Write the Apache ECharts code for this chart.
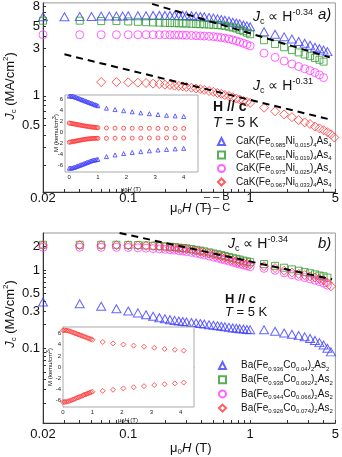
<!DOCTYPE html>
<html>
<head>
<meta charset="utf-8">
<script src="https://cdn.jsdelivr.net/npm/echarts@6/dist/echarts.min.js"></script>
<style>
  html, body { margin: 0; padding: 0; background: #fff; }
  #chart { width: 342px; height: 457px; }
</style>
</head>
<body>
<div id="chart"></div>
<script>
// applied field (T), shared by all Jc curves
const fieldT = [
  0.02, 0.03, 0.04, 0.05, 0.06, 0.07, 0.08, 0.09, 0.1,
  0.12, 0.14, 0.16, 0.18, 0.2, 0.22, 0.24, 0.26, 0.28, 0.3,
  0.33, 0.36, 0.39, 0.42, 0.46, 0.5, 0.54, 0.58, 0.62, 0.67, 0.72, 0.77, 0.82, 0.88, 0.94, 1.0,
  1.3, 1.6, 1.9, 2.2, 2.5, 2.8, 3.1, 3.4, 3.7, 4.0, 4.3, 4.6, 4.9
]

// panel a) CaK(Fe,Ni)4As4, Jc in MA/cm2
const jcCaK015 = [
  6.3, 6.3, 6.35, 6.35, 6.4, 6.4, 6.4, 6.4, 6.45,
  6.45, 6.45, 6.5, 6.5, 6.5, 6.5, 6.5, 6.5, 6.5, 6.5,
  6.45, 6.4, 6.35, 6.3, 6.2, 6.1, 6.0, 5.9, 5.8, 5.7, 5.55, 5.45, 5.35, 5.2, 5.1, 5.0,
  4.45, 4.2, 3.95, 3.75, 3.55, 3.4, 3.25, 3.1, 3.0, 2.9, 2.8, null, null
]
const jcCaK019 = [
  5.75, null, 5.75, null, 5.7, null, 5.7, null, 5.65,
  5.6, 5.55, 5.52, 5.5, 5.47, 5.45, 5.43, 5.41, 5.4, 5.38,
  5.35, 5.32, 5.3, 5.28, 5.25, 5.22, 5.2, 5.15, 5.1, 5.0, 4.9, 4.8, 4.65, 4.5, 4.35, 4.2,
  3.65, 3.35, 3.1, 2.9, 2.75, 2.62, 2.52, 2.42, 2.32, 2.22, null, null, null
]
const jcCaK025 = [
  4.15, null, 4.15, null, 4.15, null, 4.15, null, 4.15,
  4.15, 4.15, 4.15, 4.15, 4.15, 4.14, 4.13, 4.12, 4.11, 4.1,
  4.08, 4.06, 4.04, 4.02, 4.0, 3.97, 3.93, 3.88, 3.83, 3.76, 3.68, 3.6, 3.5, 3.4, 3.3, 3.2,
  2.7, 2.45, 2.25, 2.1, 1.98, 1.88, 1.8, 1.72, 1.63, 1.53, null, null, null
]
const jcCaK033 = [
  null, null, null, null, 1.38, null, 1.38, null, 1.37,
  1.36, 1.35, 1.33, 1.32, 1.3, 1.29, 1.27, 1.26, 1.25, 1.23,
  1.21, 1.19, 1.17, 1.15, 1.12, 1.1, 1.07, 1.05, 1.02, 1.0, 0.97, 0.94, 0.92, 0.89, 0.87, 0.85,
  0.76, 0.7, 0.65, 0.61, 0.57, 0.54, 0.52, 0.49, 0.47, 0.45, 0.43, 0.41, 0.38
]

// panel b) Ba(Fe,Co)2As2
const jcBa040 = [
  0.39, null, 0.37, null, 0.345, null, 0.32, null, 0.3,
  0.283, 0.268, 0.256, 0.246, 0.238, 0.232, 0.227, 0.223, 0.22, 0.217,
  0.213, 0.21, 0.207, 0.204, 0.2, 0.197, 0.194, 0.191, 0.188, 0.185, 0.182, 0.18, 0.178, 0.176, 0.174, 0.172,
  0.172, 0.165, 0.157, 0.151, 0.145, 0.14, 0.133, 0.126, 0.118, 0.11, 0.1, 0.09, null
]
const jcBa062 = [
  2.1, null, 2.1, null, 2.1, null, 2.1, null, 2.09,
  2.08, 2.06, 2.04, 2.02, 2.0, 1.98, 1.96, 1.93, 1.91, 1.89,
  1.85, 1.81, 1.77, 1.73, 1.68, 1.63, 1.59, 1.55, 1.51, 1.47, 1.43, 1.39, 1.36, 1.32, 1.29, 1.26,
  1.19, 1.13, 1.07, 1.02, 0.98, 0.94, 0.91, 0.88, 0.85, 0.83, 0.8, null, null
]
const jcBa066 = [
  1.95, null, 1.95, null, 1.95, null, 1.95, null, 1.94,
  1.92, 1.9, 1.88, 1.86, 1.84, 1.82, 1.8, 1.77, 1.75, 1.72,
  1.68, 1.64, 1.6, 1.56, 1.51, 1.46, 1.42, 1.38, 1.34, 1.3, 1.26, 1.22, 1.19, 1.16, 1.13, 1.1,
  1.05, 0.99, 0.92, 0.87, 0.83, 0.8, 0.77, 0.74, 0.71, 0.68, 0.64, null, null
]
const jcBa074 = [
  2.08, null, 2.08, null, 2.08, null, 2.08, null, 2.07,
  2.06, 2.04, 2.02, 2.0, 1.97, 1.95, 1.92, 1.9, 1.87, 1.85,
  1.8, 1.76, 1.72, 1.67, 1.62, 1.57, 1.52, 1.47, 1.43, 1.38, 1.33, 1.29, 1.26, 1.23, 1.2, 1.18,
  1.12, 1.06, 0.98, 0.93, 0.89, 0.86, 0.83, 0.8, 0.77, 0.74, 0.69, 0.62, null
]

// power-law guide lines [H, Jc] end points
const fitA1 = [[0.157, 8.5], [4.5, 2.45]]
const fitA2 = [[0.03, 2.63], [4.6, 0.575]]
const fitB = [[0.085, 2.97], [4.7, 0.76]]

// insets: M (kemu/cm3) vs mu0H (T)
const insetFieldA = [0, 0.05, 0.1, 0.15, 0.2, 0.25, 0.3, 0.35, 0.4, 0.45, 0.5, 0.55, 0.6, 0.65, 0.7, 0.75, 0.8, 0.85, 0.9, 0.95, 1.0,
  1.3, 1.6, 1.9, 2.2, 2.5, 2.8, 3.1, 3.4, 3.7, 4.0]
const mBlueUp = [6.6, 6.6, 6.6, 6.55, 6.45, 6.35, 6.25, 6.15, 6.05, 5.95, 5.85, 5.75, 5.65, 5.55, 5.45, 5.35, 5.25, 5.15, 5.05, 4.95, 4.85,
  4.4, 4.15, 3.95, 3.75, 3.55, 3.4, 3.25, 3.1, 3.0, 2.9]
const mBlueDown = [-6.5, -6.5, -6.45, -6.4, -6.3, -6.2, -6.1, -6.0, -5.9, -5.8, -5.7, -5.6, -5.5, -5.4, -5.3, -5.2, -5.1, -5.05, -5.0, -4.95, -4.9,
  -4.4, -4.1, -3.85, -3.65, -3.5, -3.35, -3.2, -3.1, -3.0, -2.9]
const mRedUp = [1.7, 1.65, 1.6, 1.55, 1.5, 1.45, 1.4, 1.35, 1.3, 1.25, 1.2, 1.16, 1.12, 1.08, 1.04, 1.0, 0.97, 0.94, 0.91, 0.88, 0.85,
  0.8, 0.78, 0.77, 0.76, 0.75, 0.75, 0.74, 0.73, 0.72, 0.72]
const mRedDown = [-1.8, -1.75, -1.7, -1.65, -1.6, -1.55, -1.5, -1.45, -1.4, -1.35, -1.3, -1.26, -1.22, -1.19, -1.16, -1.13, -1.11, -1.09, -1.08, -1.07, -1.07,
  -1.07, -1.06, -1.05, -1.04, -1.03, -1.02, -1.01, -1.0, -1.0, -0.99]

const insetFieldB = [0, 0.05, 0.1, 0.15, 0.2, 0.25, 0.3, 0.35, 0.4, 0.45, 0.5, 0.55, 0.6, 0.65, 0.7, 0.75, 0.8, 0.85, 0.9, 0.95, 1.0,
  1.35, 1.7, 2.05, 2.4, 2.75, 3.1, 3.45, 3.8, 4.1]
const mBaUp = [6.6, 6.6, 6.58, 6.55, 6.5, 6.4, 6.3, 6.2, 6.1, 6.0, 5.9, 5.8, 5.7, 5.6, 5.5, 5.4, 5.3, 5.2, 5.1, 5.0, 4.9,
  4.5, 4.25, 4.05, 3.85, 3.65, 3.45, 3.25, 3.1, 2.95]
const mBaDown = [-6.3, -6.3, -6.28, -6.22, -6.15, -6.05, -5.95, -5.85, -5.75, -5.6, -5.5, -5.4, -5.3, -5.2, -5.05, -4.95, -4.85, -4.75, -4.65, -4.55, -4.45,
  -4.3, -4.1, -3.85, -3.65, -3.45, -3.25, -3.1, -2.95, -2.8]

// tick labels
const xLabels = [0.02, 0.1, 1, 5]
const xTicks = [0.02, 0.03, 0.04, 0.05, 0.06, 0.07, 0.08, 0.09, 0.1, 0.2, 0.3, 0.4, 0.5, 0.6, 0.7, 0.8, 0.9, 1, 2, 3, 4, 5]
const yLabelsA = [0.5, 1, 3, 5, 8]
const yTicksA = [0.2, 0.3, 0.4, 0.5, 0.6, 0.7, 0.8, 0.9, 1, 2, 3, 4, 5, 6, 7, 8]
const yLabelsB = [0.1, 0.3, 0.5, 1, 2]
const yTicksB = [0.02, 0.03, 0.04, 0.05, 0.06, 0.07, 0.08, 0.09, 0.1, 0.2, 0.3, 0.4, 0.5, 0.6, 0.7, 0.8, 0.9, 1, 2]
const insetXLabels = [0, 1, 2, 3, 4]
const insetYLabels = [-6, -4, -2, 0, 2, 4, 6]

const legendA = {
  CaK015: 'CaK(Fe{s|0.985}Ni{s|0.015}){s|4}As{s|4}',
  CaK019: 'CaK(Fe{s|0.981}Ni{s|0.019}){s|4}As{s|4}',
  CaK025: 'CaK(Fe{s|0.975}Ni{s|0.025}){s|4}As{s|4}',
  CaK033: 'CaK(Fe{s|0.967}Ni{s|0.033}){s|4}As{s|4}'
}
const legendB = {
  Ba040: 'Ba(Fe{s|0.936}Co{s|0.04}){s|2}As{s|2}',
  Ba062: 'Ba(Fe{s|0.938}Co{s|0.062}){s|2}As{s|2}',
  Ba066: 'Ba(Fe{s|0.944}Co{s|0.066}){s|2}As{s|2}',
  Ba074: 'Ba(Fe{s|0.926}Co{s|0.074}){s|2}As{s|2}'
}

const FONT = '"Liberation Sans", Arial, sans-serif'
const BLUE = '#3c3cff'
const GREEN = '#2f9a2f'
const MAGENTA = '#ff3cff'
const RED = '#ff3434'

function pts(xs, ys) {
  return xs.map((x, i) => [x, ys[i]]).filter(p => p[1] != null)
}

function richFor(fs) {
  const small = Math.max(5, Math.round(fs * 0.62))
  return {
    i: { fontStyle: 'italic', fontSize: fs, fontFamily: FONT },
    b: { fontWeight: 'bold', fontSize: fs, fontFamily: FONT },
    s: { fontSize: small, lineHeight: small, verticalAlign: 'bottom', fontFamily: FONT },
    p: { fontSize: small, lineHeight: small, verticalAlign: 'top', fontFamily: FONT }
  }
}

function label(text, x, y, fs, rotated) {
  return {
    type: 'text', x: x, y: y, z: 10,
    rotation: rotated ? Math.PI / 2 : 0,
    style: {
      text: text, fontSize: fs, fontFamily: FONT, fill: '#111',
      align: rotated ? 'center' : 'left', verticalAlign: 'middle',
      lineHeight: Math.round(fs * 1.25),
      rich: richFor(fs)
    }
  }
}

function fmt(v) {
  return String(parseFloat(Number(v).toPrecision(3)))
}

function logX(grid) {
  return {
    gridIndex: grid, type: 'log', logBase: 10, min: 0.02, max: 5,
    axisLine: { lineStyle: { color: '#333' } },
    axisTick: { inside: true, length: 3, customValues: xTicks, lineStyle: { color: '#333' } },
    axisLabel: { customValues: xLabels, fontSize: 13, fontFamily: FONT, color: '#111', margin: grid === 0 ? 0 : 5, formatter: fmt },
    splitLine: { show: false }
  }
}

function logY(grid, min, max, labels, ticks) {
  return {
    gridIndex: grid, type: 'log', logBase: 10, min: min, max: max,
    axisLine: { lineStyle: { color: '#333' } },
    axisTick: { inside: true, length: 3, customValues: ticks, lineStyle: { color: '#333' } },
    axisLabel: { customValues: labels, fontSize: 13, fontFamily: FONT, color: '#111', margin: 3, formatter: fmt },
    splitLine: { show: false }
  }
}

function insetAxis(grid, min, max, labels) {
  return {
    gridIndex: grid, type: 'value', min: min, max: max,
    axisLine: { lineStyle: { color: '#999' } },
    axisTick: { inside: true, length: 2, customValues: labels, lineStyle: { color: '#999' } },
    axisLabel: { customValues: labels, fontSize: 6, fontFamily: FONT, color: '#222', margin: 2 },
    splitLine: { show: false }
  }
}

function hollow(name, grid, data, symbol, size, color) {
  return {
    name: name, type: 'scatter', xAxisIndex: grid, yAxisIndex: grid,
    data: data, symbol: symbol, symbolSize: size, z: grid > 1 ? 6 : 2,
    itemStyle: { color: 'rgba(0,0,0,0)', borderColor: color, borderWidth: 1 },
    emphasis: { disabled: true }
  }
}

function dashed(grid, data) {
  return {
    type: 'line', xAxisIndex: grid, yAxisIndex: grid, data: data,
    symbol: 'none', silent: true, z: 3,
    lineStyle: { color: '#000', width: 2, type: [7, 5] }
  }
}

function legendBox(names, map, left, top, gap, pad) {
  return {
    data: names, orient: 'vertical', left: left, top: top,
    itemWidth: 7, itemHeight: 7, itemGap: gap, selectedMode: false,
    formatter: name => map[name],
    textStyle: {
      fontSize: 10, fontFamily: FONT, color: '#111', lineHeight: 13, padding: [0, 0, 0, pad],
      rich: { s: { fontSize: 6, lineHeight: 6, verticalAlign: 'bottom', fontFamily: FONT } }
    }
  }
}

const chart = echarts.init(document.getElementById('chart'))

chart.setOption({
  animation: false,
  backgroundColor: '#fff',
  grid: [
    { left: 43, top: 1, width: 295, height: 191, show: true, borderColor: '#999', borderWidth: 1 },
    { left: 43, top: 233, width: 295, height: 190, show: true, borderColor: '#999', borderWidth: 1 },
    { left: 65, top: 95, width: 133, height: 77, show: true, borderColor: '#aaa', backgroundColor: '#fff', z: 5 },
    { left: 63, top: 327, width: 131, height: 80, show: true, borderColor: '#aaa', backgroundColor: '#fff', z: 5 }
  ],
  xAxis: [
    logX(0),
    logX(1),
    insetAxis(2, -0.15, 4.5, insetXLabels),
    insetAxis(3, 0, 4.45, insetXLabels)
  ],
  yAxis: [
    logY(0, 0.107, 8.7, yLabelsA, yTicksA),
    logY(1, 0.0111, 2.97, yLabelsB, yTicksB),
    insetAxis(2, -7.2, 6.8, insetYLabels),
    insetAxis(3, -7.2, 7.2, insetYLabels)
  ],
  legend: [
    legendBox(Object.keys(legendA), legendA, 212, 130, 0.5, 6),
    legendBox(Object.keys(legendB), legendB, 213, 354, 1.2, 10)
  ],
  series: [
    hollow('CaK015', 0, pts(fieldT, jcCaK015), 'triangle', [9, 8], BLUE),
    hollow('CaK019', 0, pts(fieldT, jcCaK019), 'rect', 7, GREEN),
    hollow('CaK025', 0, pts(fieldT, jcCaK025), 'circle', 8, MAGENTA),
    hollow('CaK033', 0, pts(fieldT, jcCaK033), 'diamond', 9, RED),
    dashed(0, fitA1),
    dashed(0, fitA2),
    hollow('Ba040', 1, pts(fieldT, jcBa040), 'triangle', [9, 8], BLUE),
    hollow('Ba062', 1, pts(fieldT, jcBa062), 'rect', 7, GREEN),
    hollow('Ba066', 1, pts(fieldT, jcBa066), 'circle', 8, MAGENTA),
    hollow('Ba074', 1, pts(fieldT, jcBa074), 'diamond', 9, RED),
    dashed(1, fitB),
    hollow('', 2, pts(insetFieldA, mBlueUp), 'triangle', 4, BLUE),
    hollow('', 2, pts(insetFieldA, mBlueDown), 'triangle', 4, BLUE),
    hollow('', 2, pts(insetFieldA, mRedUp), 'circle', 4, RED),
    hollow('', 2, pts(insetFieldA, mRedDown), 'circle', 4, RED),
    hollow('', 3, pts(insetFieldB, mBaUp), 'diamond', 5, RED),
    hollow('', 3, pts(insetFieldB, mBaDown), 'diamond', 5, RED)
  ],
  graphic: [
    // axis titles
    label('{i|J}{s|c} (MA/cm{p|2})', 10, 86, 13, true),
    label('{i|J}{s|c} (MA/cm{p|2})', 10, 314, 13, true),
    label('\u03bc{s|0}{i|H} (T)', 170, 208, 13),
    label('\u03bc{s|0}{i|H} (T)', 170, 448, 13),
    label('\u2013 \u2013 B', 204, 197, 11),
    label('\u2013 \u2013 C', 204, 208, 11),
    // panel a annotations
    label('{i|J}{s|c} \u221d H{p|-0.34}', 253, 17, 14),
    label('{i|a)}', 318, 15, 15),
    label('{i|J}{s|c} \u221d H{p|-0.31}', 253, 86, 14),
    label('{b|H // c}', 213, 107, 14),
    label('{i|T} = 5 K', 213, 123, 14),
    // panel b annotations
    label('{i|J}{s|c} \u221d H{p|-0.34}', 228, 244, 14),
    label('{i|b)}', 318, 244, 15),
    label('{b|H // c}', 225, 299, 13),
    label('{i|T} = 5 K', 225, 312, 13),
    // inset titles
    label('M (kemu/cm{p|3})', 56, 133, 6, true),
    label('\u03bc{s|0}{i|H} (T)', 121, 189, 6),
    label('M (kemu/cm{p|3})', 50, 367, 6, true),
    label('\u03bc{s|0}{i|H} (T)', 118, 420, 6)
  ]
})
</script>
</body>
</html>
